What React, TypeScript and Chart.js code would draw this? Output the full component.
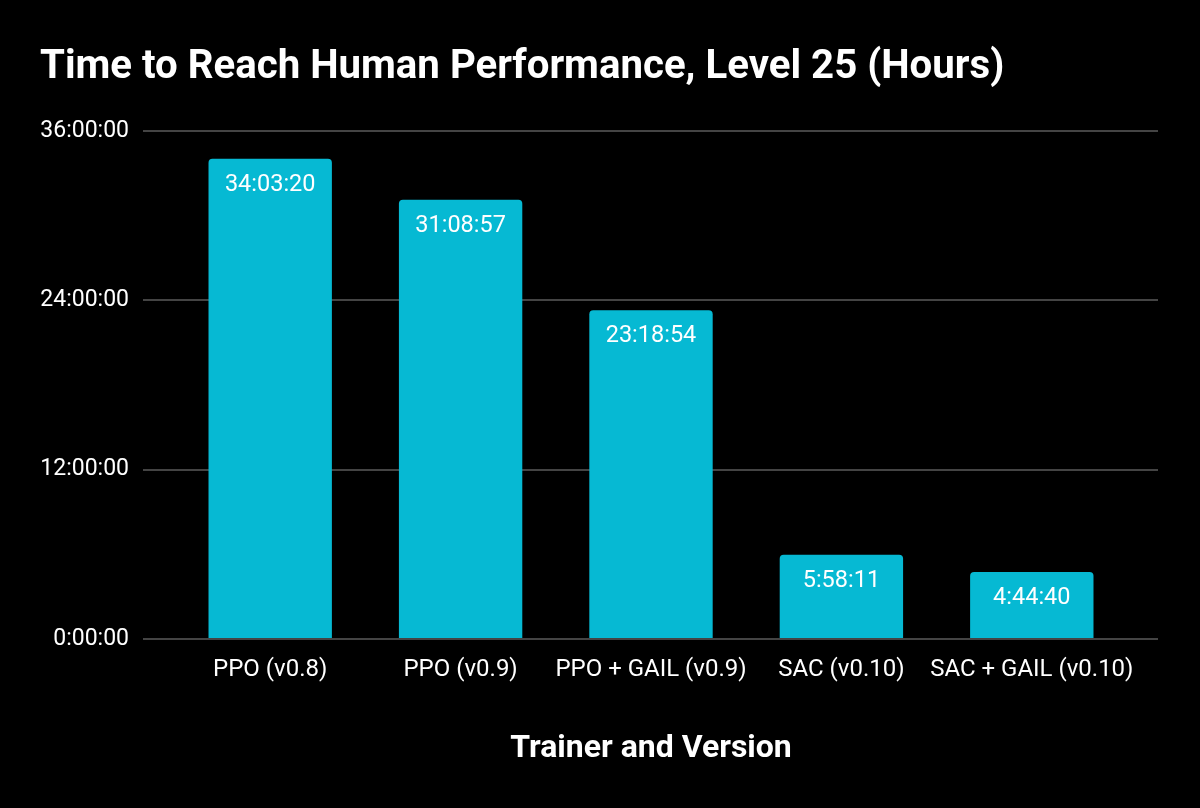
import React, { useEffect, useRef } from "react";
import { Chart, registerables } from "chart.js";

Chart.register(...registerables);

const categories = [
  "PPO (v0.8)",
  "PPO (v0.9)",
  "PPO + GAIL (v0.9)",
  "SAC (v0.10)",
  "SAC + GAIL (v0.10)",
];
const durations = ["34:03:20", "31:08:57", "23:18:54", "5:58:11", "4:44:40"];
const yTickHours = [0, 12, 24, 36];

const toHours = (s: string) => {
  const [h, m, sec] = s.split(":").map(Number);
  return h + m / 60 + sec / 3600;
};
const hoursValues = durations.map(toHours);

const FONT = "Roboto";
const BAR_COLOR = "#06B9D3";
const GRID_COLOR = "#444444";

const bgPlugin = {
  id: "bg",
  beforeDraw(chart: any) {
    const { ctx, width, height } = chart;
    ctx.save();
    ctx.fillStyle = "#000000";
    ctx.fillRect(0, 0, width, height);
    ctx.restore();
  },
};

const valueLabelPlugin = {
  id: "valueLabels",
  afterDatasetsDraw(chart: any) {
    const { ctx } = chart;
    const meta = chart.getDatasetMeta(0);
    ctx.save();
    ctx.font = `23.5px ${FONT}`;
    ctx.fillStyle = "#ffffff";
    ctx.textAlign = "center";
    ctx.textBaseline = "middle";
    meta.data.forEach((bar: any, i: number) => {
      ctx.fillText(durations[i], bar.x, bar.y + 26);
    });
    ctx.restore();
  },
};

export default function App() {
  const canvasRef = useRef<HTMLCanvasElement>(null);

  useEffect(() => {
    if (!canvasRef.current) return;
    const chart = new Chart(canvasRef.current, {
      type: "bar",
      data: {
        labels: categories,
        datasets: [
          {
            data: hoursValues,
            backgroundColor: BAR_COLOR,
            borderRadius: 4,
            barPercentage: 0.648,
            categoryPercentage: 1,
          },
        ],
      },
      options: {
        animation: false,
        responsive: false,
        maintainAspectRatio: false,
        layout: { padding: { left: 40, right: 42, top: 0, bottom: 0 } },
        plugins: {
          legend: { display: false },
          tooltip: { enabled: false },
          title: {
            display: true,
            text: "Time to Reach Human Performance, Level 25 (Hours)",
            align: "start",
            color: "#ffffff",
            font: { family: FONT, size: 40.2, weight: "bold", lineHeight: 1.2 },
            padding: { top: 44, bottom: 39 },
          },
        },
        scales: {
          x: {
            grid: { display: false },
            border: { display: false },
            ticks: {
              color: "#ffffff",
              font: { family: FONT, size: 24 },
              padding: 9,
              maxRotation: 0,
              autoSkip: false,
            },
            title: {
              display: true,
              text: "Trainer and Version",
              color: "#ffffff",
              font: { family: FONT, size: 32, weight: "bold", lineHeight: 1.2 },
              padding: { top: 0, bottom: 40 },
            },
            afterFit: (s: any) => {
              s.height = 169;
            },
          },
          y: {
            min: 0,
            max: 36,
            afterBuildTicks: (s: any) => {
              s.ticks = yTickHours.map((v) => ({ value: v }));
            },
            grid: {
              color: GRID_COLOR,
              lineWidth: 2,
              drawTicks: true,
              tickLength: 32,
              tickColor: GRID_COLOR,
            },
            border: { display: false },
            ticks: {
              color: "#ffffff",
              font: { family: FONT, size: 23 },
              padding: 14,
              callback: (v: any) => `${v}:00:00`,
            },
            afterFit: (s: any) => {
              s.width = 135;
            },
          },
          y2: {
            position: "right",
            min: 0,
            max: 36,
            afterBuildTicks: (s: any) => {
              s.ticks = yTickHours.map((v) => ({ value: v }));
            },
            grid: {
              color: GRID_COLOR,
              lineWidth: 2,
              drawOnChartArea: false,
              drawTicks: true,
              tickLength: 31,
              tickColor: GRID_COLOR,
            },
            border: { display: false },
            ticks: { display: false },
            afterFit: (s: any) => {
              s.width = 31;
            },
          },
        },
      },
      plugins: [bgPlugin, valueLabelPlugin],
    } as any);
    return () => chart.destroy();
  }, []);

  return (
    <div
      style={{
        position: "fixed",
        left: 0,
        top: 0,
        width: 1200,
        height: 808,
        background: "#000",
      }}
    >
      <canvas ref={canvasRef} width={1200} height={808} style={{ display: "block" }} />
    </div>
  );
}
